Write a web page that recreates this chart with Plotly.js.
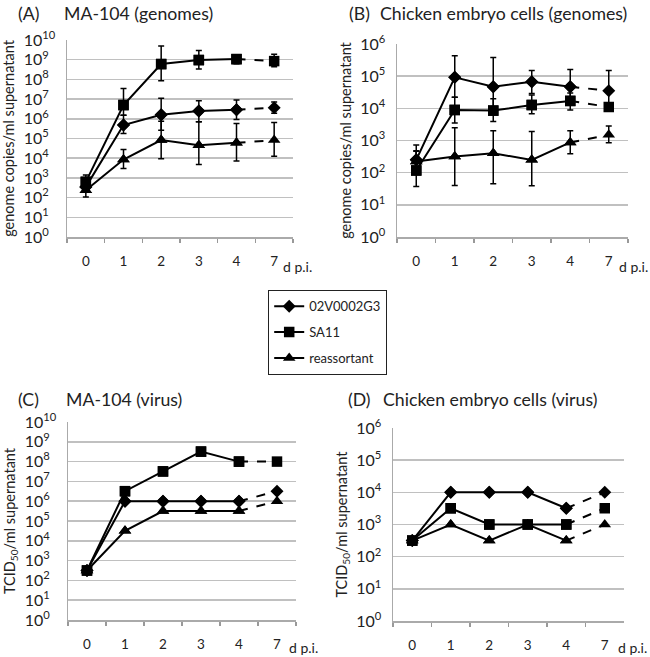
<!DOCTYPE html>
<html>
<head>
<meta charset="utf-8">
<script src="https://cdn.plot.ly/plotly-3.0.1.min.js"></script>
<style>html,body{margin:0;padding:0;background:#fff;}#chart{width:650px;height:657px;}</style>
</head>
<body>
<div id="chart"></div>
<script>
// ---- data ----
const days = ['0', '1', '2', '3', '4', '7'];
const seriesNames = ['02V0002G3', 'SA11', 'reassortant'];

// (A) MA-104 genomes
const A_g3    = [350, 4.8e5, 1.6e6, 2.5e6, 2.9e6, 3.6e6];
const A_g3_hi = [700, 1.5e6, 1.1e7, 8.3e6, 8.9e6, 7.2e6];
const A_g3_lo = [200, 1.8e5, 2.6e5, 7.0e5, 9.3e5, 1.9e6];
const A_sa    = [630, 5.0e6, 6.0e8, 9.6e8, 1.07e9, 8.5e8];
const A_sa_hi = [1.4e3, 3.5e7, 5.0e9, 2.9e9, 1.7e9, 1.9e9];
const A_sa_lo = [350, 1.5e6, 8.5e7, 3.4e8, 6.3e8, 4.4e8];
const A_re    = [235, 8.5e3, 8.3e4, 4.6e4, 6.0e4, 8.3e4];
const A_re_hi = [400, 2.8e4, 7.6e5, 7.0e5, 5.8e5, 6.5e5];
const A_re_lo = [107, 3.0e3, 9.5e3, 4.8e3, 7.2e3, 1.26e4];

// (B) Chicken embryo cells genomes
const B_g3    = [250, 9.2e4, 4.7e4, 6.7e4, 4.7e4, 3.5e4];
const B_g3_hi = [720, 4.3e5, 3.8e5, 1.5e5, 1.6e5, 1.5e5];
const B_g3_lo = [120, 2.2e4, 9.0e3, 2.9e4, 2.3e4, 1.1e4];
const B_sa    = [117, 8.9e3, 8.5e3, 1.27e4, 1.7e4, 1.1e4];
const B_sa_hi = [460, 2.2e4, 2.0e4, 2.6e4, 3.0e4, 1.4e4];
const B_sa_lo = [37, 3.5e3, 3.9e3, 6.8e3, 8.9e3, 9.0e3];
const B_re    = [222, 316, 400, 250, 870, 1.5e3];
const B_re_hi = [480, 2.5e3, 2.0e3, 1.9e3, 2.0e3, 2.8e3];
const B_re_lo = [120, 40, 45, 39, 390, 850];

// (C) MA-104 virus
const C_g3 = [316, 1e6, 1e6, 1e6, 1e6, 3.2e6];
const C_sa = [316, 3.2e6, 3.2e7, 3.2e8, 1e8, 1e8];
const C_re = [316, 3.2e4, 3.2e5, 3.2e5, 3.2e5, 1e6];

// (D) Chicken embryo cells virus
const D_g3 = [316, 1e4, 1e4, 1e4, 3.2e3, 1e4];
const D_sa = [316, 3.2e3, 1e3, 1e3, 1e3, 3.2e3];
const D_re = [316, 1e3, 316, 1e3, 316, 1e3];

// ---- build ----
const W = 650, H = 657;
const FONT = 'Lato, "Liberation Sans", sans-serif';
const symbols = ['diamond', 'square', 'triangle-up'];
const msizes = [10, 10.5, 11];
const traces = [];

function addSeries(ax, idx, y, hi, lo, legend) {
  const xa = 'x' + ax, ya = 'y' + ax;
  const sym = symbols[idx], ms = msizes[idx];
  const name = seriesNames[idx];
  traces.push({
    x: days.slice(0, 5), y: y.slice(0, 5), xaxis: xa, yaxis: ya,
    type: 'scatter', mode: 'lines+markers', name: name, legendgroup: name,
    showlegend: legend,
    line: {color: '#000', width: 2},
    marker: {symbol: sym, size: ms, color: '#000'}
  });
  traces.push({
    x: days.slice(4), y: y.slice(4), xaxis: xa, yaxis: ya,
    type: 'scatter', mode: 'lines', name: name, legendgroup: name,
    showlegend: false, hoverinfo: 'skip',
    line: {color: '#000', width: 2, dash: 'dash'}
  });
  const t = {
    x: days, y: y, xaxis: xa, yaxis: ya,
    type: 'scatter', mode: 'markers', name: name, legendgroup: name,
    showlegend: false,
    marker: {symbol: sym, size: ms, color: '#000'}
  };
  if (hi && lo) {
    t.error_y = {
      type: 'data', symmetric: false,
      array: hi.map((v, i) => v - y[i]),
      arrayminus: lo.map((v, i) => y[i] - v),
      color: '#000', thickness: 1.5, width: 3
    };
  }
  traces.push(t);
}

addSeries('', 0, A_g3, A_g3_hi, A_g3_lo, true);
addSeries('', 1, A_sa, A_sa_hi, A_sa_lo, true);
addSeries('', 2, A_re, A_re_hi, A_re_lo, true);
addSeries('2', 0, B_g3, B_g3_hi, B_g3_lo, false);
addSeries('2', 1, B_sa, B_sa_hi, B_sa_lo, false);
addSeries('2', 2, B_re, B_re_hi, B_re_lo, false);
addSeries('3', 0, C_g3, null, null, false);
addSeries('3', 1, C_sa, null, null, false);
addSeries('3', 2, C_re, null, null, false);
addSeries('4', 0, D_g3, null, null, false);
addSeries('4', 1, D_sa, null, null, false);
addSeries('4', 2, D_re, null, null, false);

function px2x(p) { return p / W; }
function px2y(p) { return 1 - p / H; }

// labels are left-aligned in the reference: pad one-digit exponents
function decadeTicks(n) {
  const vals = [], txt = [];
  for (let i = 0; i <= n; i++) {
    vals.push(Math.pow(10, i));
    const pad = (n >= 10 && i < 10) ? '\u2007' : '';
    txt.push('10<sup>' + i + pad + '</sup>');
  }
  return {vals, txt};
}

function xAxis(left, right, anchor) {
  return {
    domain: [px2x(left), px2x(right)], anchor: anchor,
    type: 'category', categoryarray: days, range: [-0.5, 5.5],
    tickson: 'boundaries', ticks: 'outside', ticklen: 4, tickwidth: 1.2, tickcolor: '#999',
    showline: true, linecolor: '#aaa', linewidth: 1.5, showgrid: false, zeroline: false,
    tickfont: {family: FONT, size: 13.5, color: '#222'}, ticklabelstandoff: 11,
    fixedrange: true
  };
}
function yAxis(top, bottom, anchor, n, title, standoff) {
  const t = decadeTicks(n);
  return {
    domain: [px2y(bottom), px2y(top)], anchor: anchor,
    type: 'log', range: [0, n], tickmode: 'array', tickvals: t.vals, ticktext: t.txt,
    showgrid: true, gridcolor: '#c0c0c0', gridwidth: 1.5,
    showline: true, linecolor: '#aaa', linewidth: 1.5, ticks: '', zeroline: false,
    tickfont: {family: FONT, size: 16, color: '#222'}, ticklabelstandoff: 7,
    title: {text: title, font: {family: FONT, size: 14.5, color: '#222'}, standoff: standoff},
    fixedrange: true
  };
}

const annotations = [];
function ann(text, xpx, ypx, size, anchor) {
  annotations.push({
    text: text, xref: 'paper', yref: 'paper', x: px2x(xpx), y: px2y(ypx),
    xanchor: anchor || 'left', yanchor: 'middle', showarrow: false,
    font: {family: FONT, size: size, color: '#222'}
  });
}
ann('(A)', 16, 13, 17.7);
ann('MA-104 (genomes)', 62, 13, 17.7);
ann('(B)', 347, 13, 17.7);
ann('Chicken embryo cells (genomes)', 378, 13, 17.7);
ann('(C)', 16, 399, 17.7);
ann('MA-104 (virus)', 64, 399, 17.7);
ann('(D)', 346, 399, 17.7);
ann('Chicken embryo cells (virus)', 381, 399, 17.7);
ann('d p.i.', 281, 267, 14);
ann('d p.i.', 617, 267, 14);
ann('d p.i.', 287, 647, 14);
ann('d p.i.', 616, 647, 14);

const layout = {
  width: W, height: H,
  margin: {l: 0, r: 0, t: 0, b: 0},
  paper_bgcolor: '#fff', plot_bgcolor: '#fff',
  font: {family: FONT, color: '#222'},
  showlegend: true,
  legend: {
    x: px2x(268), y: px2y(290), xanchor: 'left', yanchor: 'top',
    bordercolor: '#222', borderwidth: 1.2, bgcolor: '#fff',
    font: {family: FONT, size: 13, color: '#222'},
    tracegroupgap: 6, traceorder: 'grouped'
  },
  xaxis: xAxis(67, 293, 'y'),
  yaxis: yAxis(40, 237, 'x', 10, 'genome copies/ml supernatant', 5),
  xaxis2: xAxis(397, 628, 'y2'),
  yaxis2: yAxis(44, 237, 'x2', 6, 'genome copies/ml supernatant', 5),
  xaxis3: xAxis(68, 296, 'y3'),
  yaxis3: yAxis(422, 620, 'x3', 10, 'TCID<sub>50</sub>/ml supernatant', 5),
  xaxis4: xAxis(393, 624, 'y4'),
  yaxis4: yAxis(428, 621, 'x4', 6, 'TCID<sub>50</sub>/ml supernatant', 5),
  annotations: annotations
};

Plotly.newPlot('chart', traces, layout, {staticPlot: true, displayModeBar: false});
</script>
</body>
</html>
